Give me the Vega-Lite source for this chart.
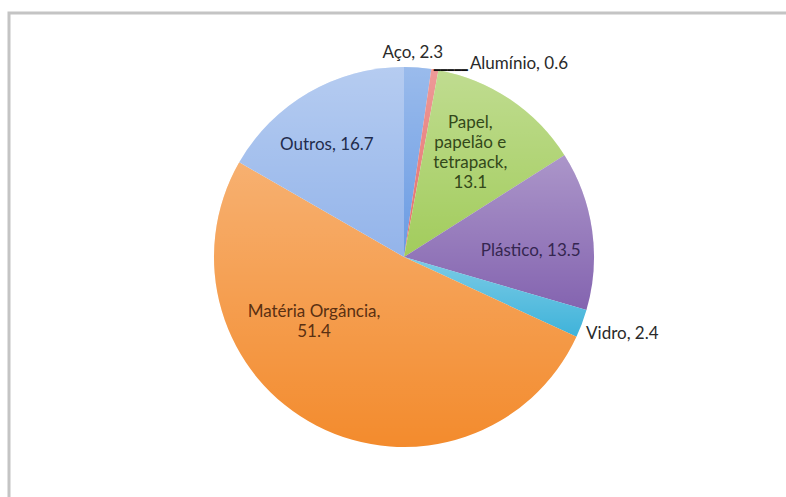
{
  "$schema": "https://vega.github.io/schema/vega-lite/v6.json",
  "width": 790,
  "height": 492,
  "autosize": {"type": "none"},
  "padding": {"left": 9, "top": 13, "right": 0, "bottom": 0},
  "background": "white",
  "view": {"stroke": "#c4c4c4", "strokeWidth": 3},
  "config": {
    "view": {"stroke": "#c4c4c4", "strokeWidth": 3},
    "text": {"font": "Lato", "fontSize": 17, "color": "#2a2a2a", "lineHeight": 20, "lineBreak": "\n", "baseline": "middle"}
  },
  "data": {
    "values": [
      {"k": "Aço", "v": 2.3, "i": 1, "label": "Aço, 2.3"},
      {"k": "Alumínio", "v": 0.6, "i": 2, "label": "Alumínio, 0.6"},
      {"k": "Papel", "v": 13.1, "i": 3, "label": "Papel,\npapelão e\ntetrapack,\n13.1"},
      {"k": "Plástico", "v": 13.5, "i": 4, "label": "Plástico, 13.5"},
      {"k": "Vidro", "v": 2.4, "i": 5, "label": "Vidro, 2.4"},
      {"k": "Matéria Orgância", "v": 51.4, "i": 6, "label": "Matéria Orgância,\n51.4"},
      {"k": "Outros", "v": 16.7, "i": 7, "label": "Outros, 16.7"}
    ]
  },
  "layer": [
    {
      "mark": {"type": "point", "opacity": 0},
      "encoding": {
        "x": {"field": "v", "type": "quantitative", "axis": null},
        "y": {"field": "i", "type": "quantitative", "axis": null}
      }
    },
    {
      "mark": {"type": "arc", "outerRadius": 190, "x": 395, "y": 244},
      "encoding": {
        "theta": {"field": "v", "type": "quantitative", "stack": true},
        "order": {"field": "i", "type": "quantitative"},
        "color": {
          "field": "k", "type": "nominal", "legend": null,
          "scale": {
            "domain": ["Aço", "Alumínio", "Papel", "Plástico", "Vidro", "Matéria Orgância", "Outros"],
            "range": ["#6a9be3", "#e56b68", "#a2cc5c", "#8464b0", "#3fb3da", "#f38b2d", "#93b4ea"]
          }
        }
      }
    },
    {
      "mark": {
        "type": "arc", "outerRadius": 190, "x": 395, "y": 244,
        "fill": {
          "gradient": "linear", "x1": 0, "y1": 0, "x2": 0, "y2": 1,
          "stops": [
            {"offset": 0, "color": "rgba(255,255,255,0.32)"},
            {"offset": 1, "color": "rgba(255,255,255,0.0)"}
          ]
        }
      },
      "encoding": {
        "theta": {"field": "v", "type": "quantitative", "stack": true},
        "order": {"field": "i", "type": "quantitative"}
      }
    },
    {
      "mark": {"type": "text", "radius": 205, "dx": -6, "x": 395, "y": 244},
      "encoding": {
        "theta": {"field": "v", "type": "quantitative", "stack": true},
        "order": {"field": "i", "type": "quantitative"},
        "text": {"condition": {"test": "datum.k === 'Aço'", "field": "label"}, "value": ""}
      }
    },
    {
      "mark": {"type": "text", "radius": 196, "align": "left", "dx": 34, "x": 395, "y": 244},
      "encoding": {
        "theta": {"field": "v", "type": "quantitative", "stack": true},
        "order": {"field": "i", "type": "quantitative"},
        "text": {"condition": {"test": "datum.k === 'Alumínio'", "field": "label"}, "value": ""}
      }
    },
    {
      "mark": {"type": "text", "radius": 189, "align": "left", "dx": -1, "font": "DejaVu Sans Mono", "fontSize": 11.3, "color": "#111111", "x": 395, "y": 244},
      "encoding": {
        "theta": {"field": "v", "type": "quantitative", "stack": true},
        "order": {"field": "i", "type": "quantitative"},
        "text": {"condition": {"test": "datum.k === 'Alumínio'", "value": "━━━━━"}, "value": ""}
      }
    },
    {
      "mark": {"type": "text", "radius": 122, "dx": -2, "dy": -33, "color": "#33481a", "x": 395, "y": 244},
      "encoding": {
        "theta": {"field": "v", "type": "quantitative", "stack": true},
        "order": {"field": "i", "type": "quantitative"},
        "text": {"condition": {"test": "datum.k === 'Papel'", "field": "label"}, "value": ""}
      }
    },
    {
      "mark": {"type": "text", "radius": 128, "dy": 12, "color": "#352650", "x": 395, "y": 244},
      "encoding": {
        "theta": {"field": "v", "type": "quantitative", "stack": true},
        "order": {"field": "i", "type": "quantitative"},
        "text": {"condition": {"test": "datum.k === 'Plástico'", "field": "label"}, "value": ""}
      }
    },
    {
      "mark": {"type": "text", "radius": 220, "align": "left", "dx": -24, "x": 395, "y": 244},
      "encoding": {
        "theta": {"field": "v", "type": "quantitative", "stack": true},
        "order": {"field": "i", "type": "quantitative"},
        "text": {"condition": {"test": "datum.k === 'Vidro'", "field": "label"}, "value": ""}
      }
    },
    {
      "mark": {"type": "text", "radius": 100, "dx": -44, "dy": -34, "color": "#5a3012", "x": 395, "y": 244},
      "encoding": {
        "theta": {"field": "v", "type": "quantitative", "stack": true},
        "order": {"field": "i", "type": "quantitative"},
        "text": {"condition": {"test": "datum.k === 'Matéria Orgância'", "field": "label"}, "value": ""}
      }
    },
    {
      "mark": {"type": "text", "radius": 138, "dx": -8, "dy": 7, "color": "#1f2c4c", "x": 395, "y": 244},
      "encoding": {
        "theta": {"field": "v", "type": "quantitative", "stack": true},
        "order": {"field": "i", "type": "quantitative"},
        "text": {"condition": {"test": "datum.k === 'Outros'", "field": "label"}, "value": ""}
      }
    }
  ]
}
